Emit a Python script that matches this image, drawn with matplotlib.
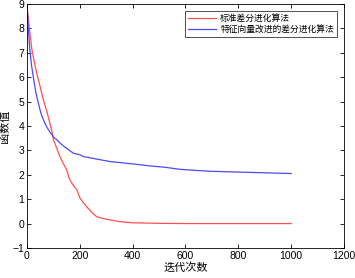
import matplotlib
matplotlib.use("Agg")
import matplotlib.pyplot as plt

plt.rcParams['font.family'] = ['Liberation Sans', 'Noto Sans CJK SC', 'DejaVu Sans']

# Standard DE
red_x = [1, 10, 19, 28, 37, 50, 62, 75, 87, 95, 100, 112, 125, 138, 150, 160, 170, 180, 189, 195, 201, 213, 226, 245, 264, 290, 315, 350, 403, 450, 500, 600, 700, 800, 900, 1000]
red_y = [8.8, 7.9, 7.1, 6.6, 6.16, 5.6, 5.07, 4.6, 4.1, 3.75, 3.45, 3.1, 2.74, 2.45, 2.2, 1.85, 1.65, 1.5, 1.38, 1.2, 1.04, 0.86, 0.69, 0.46, 0.28, 0.2, 0.15, 0.08, 0.03, 0.02, 0.01, 0.0, 0.0, 0.0, 0.0, 0.0]
# Eigenvector-improved DE
blue_x = [1, 5, 11, 17, 24, 33, 43, 52, 62, 75, 87, 100, 113, 130, 150, 176, 200, 215, 226, 260, 315, 360, 403, 467, 520, 581, 650, 700, 800, 900, 1000]
blue_y = [8.8, 8.0, 7.1, 6.5, 6.0, 5.4, 4.94, 4.55, 4.25, 3.95, 3.75, 3.55, 3.43, 3.25, 3.08, 2.88, 2.82, 2.74, 2.72, 2.65, 2.54, 2.49, 2.44, 2.36, 2.31, 2.22, 2.17, 2.14, 2.11, 2.08, 2.05]

labels = ['标准差分进化算法', '特征向量改进的差分进化算法']
xticks = [0, 200, 400, 600, 800, 1000, 1200]
yticks = [-1, 0, 1, 2, 3, 4, 5, 6, 7, 8, 9]

fig = plt.figure(figsize=(3.55, 2.78), dpi=100)
ax = fig.add_axes([0.076, 0.108, 0.893, 0.878])
ax.plot(red_x, red_y, color='#ff5050', lw=0.9, label=labels[0])
ax.plot(blue_x, blue_y, color='#4a4aff', lw=0.9, label=labels[1])
ax.set_xlim(0, 1200)
ax.set_ylim(-1, 9)
ax.set_xticks(xticks)
ax.set_yticks(yticks)
ax.tick_params(direction='in', top=True, right=True, labelsize=7.5, length=3, width=0.6, pad=2)
for s in ax.spines.values():
    s.set_linewidth(0.6)
ax.set_xlabel('迭代次数', fontsize=8, labelpad=1)
ax.set_ylabel('函数值', fontsize=8, labelpad=2)
leg = ax.legend(loc='upper right', fontsize=6.3, fancybox=False, edgecolor='black',
                handlelength=3.2, handletextpad=0.5, borderpad=0.35, labelspacing=0.25,
                borderaxespad=0, bbox_to_anchor=(0.978, 0.972))
leg.get_frame().set_linewidth(0.6)
fig.savefig('out.png', dpi=100)
